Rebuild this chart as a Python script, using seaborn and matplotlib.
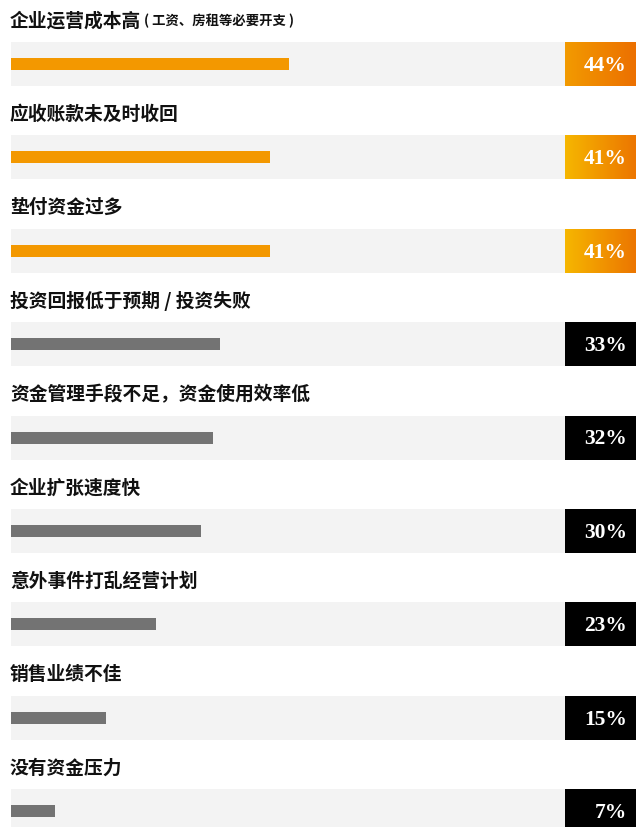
import numpy as np
import pandas as pd
import seaborn as sns
import matplotlib
matplotlib.use("Agg")
import matplotlib.pyplot as plt
from matplotlib.colors import LinearSegmentedColormap

# data
labels = [
    "企业运营成本高",
    "应收账款未及时收回",
    "垫付资金过多",
    "投资回报低于预期 / 投资失败",
    "资金管理手段不足，资金使用效率低",
    "企业扩张速度快",
    "意外事件打乱经营计划",
    "销售业绩不佳",
    "没有资金压力",
]
notes = ["( 工资、房租等必要开支 )", "", "", "", "", "", "", "", ""]
values = [44, 41, 41, 33, 32, 30, 23, 15, 7]

df = pd.DataFrame({"label": labels, "value": values})
df["track"] = 87.66  # grey track runs to where the value box starts

sns.set_theme(style="white")
cjk = ["Noto Sans CJK SC", "DejaVu Sans"]
plt.rcParams["font.family"] = cjk

ORANGE = "#f39800"
GREY = "#737373"
TRACK = "#f3f3f3"
n_hot = 3
bar_colors = [ORANGE if i < n_hot else GREY for i in range(len(df))]

fig = plt.figure(figsize=(6.36, 8.27), dpi=100)
ax = fig.add_axes([0, 0, 1, 1])

# light background tracks
sns.barplot(data=df, x="track", y="label", orient="h", color=TRACK,
            width=0.471, ax=ax, saturation=1, linewidth=0)
# value bars
sns.barplot(data=df, x="value", y="label", hue="label", orient="h",
            palette=bar_colors, width=0.13, ax=ax, saturation=1,
            legend=False, linewidth=0)

x_left = -11 / 6.32
x_right = (636 - 11) / 6.32
box_l = 87.66
half = 0.471 / 2

grad_top = LinearSegmentedColormap.from_list("g0", ["#f29a00", "#ec7000"])
grad_hot = LinearSegmentedColormap.from_list("g1", ["#f6b600", "#ec7600"])
ramp = np.linspace(0, 1, 64).reshape(1, -1)

for i, (lab, note, v) in enumerate(zip(labels, notes, values)):
    if i < n_hot:
        cmap = grad_top if i == 0 else grad_hot
        ax.imshow(ramp, cmap=cmap, aspect="auto",
                  extent=(box_l, x_right, i + half, i - half), zorder=3)
    else:
        ax.barh(i, x_right - box_l, left=box_l, height=0.471,
                color="black", linewidth=0, zorder=3)
    ax.text(x_right - 9 / 6.32, i + 0.02, f"{v}%", ha="right", va="center",
            color="white", fontsize=15.5, fontweight="bold",
            family=["Liberation Serif", "DejaVu Serif"], zorder=4)
    t = ax.text(-0.16, i - 0.46, lab, ha="left", va="center",
                fontsize=13.5, fontweight="bold", color="#111111",
                family=cjk)
    if note:
        ax.annotate(note, xy=(1, 0.5), xycoords=t, xytext=(2, 0),
                    textcoords="offset points", ha="left", va="center",
                    fontsize=9.6, fontweight="bold", color="#111111",
                    family=cjk)

ax.set_xlim(x_left, x_right)
ax.set_ylim((827 - 64) / 93.4, -64 / 93.4)
ax.set_axis_off()

fig.savefig("out.png", dpi=100)
